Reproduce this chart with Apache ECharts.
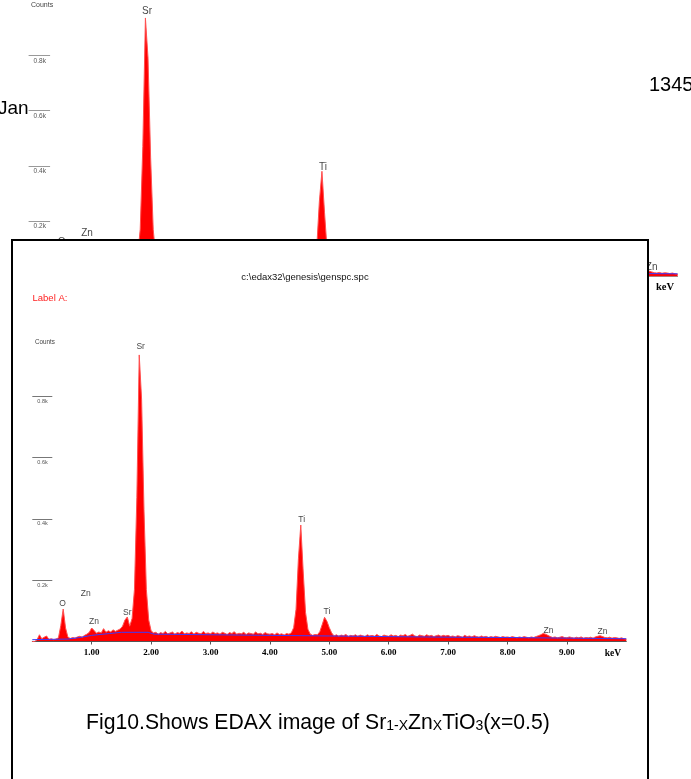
<!DOCTYPE html>
<html>
<head>
<meta charset="utf-8">
<script src="https://cdn.jsdelivr.net/npm/echarts@6/dist/echarts.min.js"></script>
<style>
  html, body { margin: 0; padding: 0; background: #fff; }
  #chart { width: 691px; height: 779px; }
</style>
</head>
<body>
<div id="chart"></div>
<script>
  // spectrum counts, one value per 0.04 keV channel (0.00 .. 10.00 keV)
  const KEV_STEP = 0.04;
  const counts = [
    0, 0, 6, 22, 9, 14, 18, 7, 9, 6, 8, 12, 52, 106, 44, 14, 10, 13, 11, 15, 17, 14, 20, 24, 30,
    44, 36, 27, 31, 28, 42, 30, 35, 31, 38, 33, 37, 41, 50, 70, 80, 50, 75, 170, 470, 935, 790, 430, 170, 70,
    35, 28, 30, 24, 29, 26, 33, 25, 28, 31, 24, 29, 27, 34, 25, 28, 26, 32, 24, 30, 27, 25, 33, 26, 28,
    25, 31, 26, 28, 24, 30, 27, 23, 29, 26, 32, 24, 27, 25, 30, 23, 28, 26, 24, 31, 25, 27, 23, 29, 25,
    24, 26, 22, 28, 23, 25, 21, 26, 24, 28, 45, 105, 270, 380, 230, 95, 40, 24, 20, 23, 22, 32, 55, 79, 66,
    45, 28, 18, 22, 17, 21, 19, 23, 16, 20, 18, 22, 17, 21, 19, 16, 22, 18, 20, 17, 23, 18, 16, 21, 19,
    17, 22, 18, 20, 16, 21, 19, 23, 17, 20, 24, 18, 16, 21, 19, 17, 22, 18, 20, 16, 19, 21, 17, 20, 18,
    20, 16, 18, 15, 19, 17, 14, 20, 16, 18, 15, 19, 16, 14, 18, 15, 17, 13, 16, 14, 17, 15, 13, 16, 14,
    15, 13, 16, 14, 12, 15, 13, 16, 14, 12, 15, 13, 16, 19, 22, 26, 24, 20, 16, 13, 15, 12, 14, 16, 13,
    12, 15, 13, 11, 14, 12, 15, 11, 13, 12, 14, 11, 15, 17, 19, 16, 13, 12, 14, 11, 13, 12, 10, 12, 9, 8
  ];

  // fitted background (blue line)
  const bgKeV = [0, 0.6, 0.8, 1.0, 1.3, 1.5, 1.95, 2.05, 3.0, 4.0, 5.0, 6.0, 7.0, 8.0, 9.0, 10.0];
  const bgCounts = [6, 8, 13, 20, 26, 30, 30, 24, 22, 20, 18, 16, 14, 13, 11, 9];

  // element labels
  const peakNames = ['O', 'Zn', 'Zn', 'Sr', 'Sr', 'Ti', 'Ti', 'Zn', 'Zn'];
  const peakKeV = [0.51, 0.90, 1.04, 1.60, 1.825, 4.535, 4.96, 8.69, 9.60];
  const peakLabelY = [125, 157, 64, 94, 961, 396, 96, 37, 31];

  const yTicks = [200, 400, 600, 800];
  const xTicks = [1, 2, 3, 4, 5, 6, 7, 8, 9];

  const SANS = 'Liberation Sans, Arial, sans-serif';
  const SERIF = 'Liberation Serif, Times New Roman, serif';

  const spectrum = counts.map((c, i) => [+(i * KEV_STEP).toFixed(2), c]);
  const background = bgKeV.map((k, i) => [k, bgCounts[i]]);
  const peakLabels = peakNames.map((n, i) => ({ name: n, value: [peakKeV[i], peakLabelY[i]] }));

  const chart = echarts.init(document.getElementById('chart'));

  function yAxisFor(grid, tickLen, fontSize, color, z) {
    return {
      type: 'value', gridIndex: grid, min: 0, max: 1000, interval: 200, z: z,
      axisLine: { show: false },
      splitLine: { show: false },
      axisTick: { show: true, inside: true, length: tickLen, customValues: yTicks, lineStyle: { color: color, width: 1 } },
      axisLabel: {
        show: true, inside: true, customValues: yTicks, margin: 5,
        verticalAlign: 'top', padding: [2, 0, 0, 0],
        fontSize: fontSize, fontFamily: SANS, color: '#555',
        formatter: v => (v / 1000).toFixed(1) + 'k'
      }
    };
  }

  function seriesFor(idx, z, labelSize) {
    return [
      {
        type: 'line', xAxisIndex: idx, yAxisIndex: idx, z: z,
        data: spectrum, symbol: 'none', sampling: 'none',
        lineStyle: { color: '#ff5050', width: 1 },
        areaStyle: { color: '#ff0000', opacity: 1 },
        silent: true
      },
      {
        type: 'line', xAxisIndex: idx, yAxisIndex: idx, z: z + 1,
        data: background, symbol: 'none',
        lineStyle: { color: '#3a3aff', width: 1 },
        silent: true
      },
      {
        type: 'scatter', xAxisIndex: idx, yAxisIndex: idx, z: z + 2,
        data: peakLabels, symbolSize: 1, itemStyle: { color: 'transparent' },
        label: { show: true, position: 'inside', formatter: '{b}', color: '#111', fontSize: labelSize, fontFamily: SANS },
        silent: true
      }
    ];
  }

  const option = {
    animation: false,
    backgroundColor: '#fff',
    grid: [
      { left: 28.6, width: 649, top: -1.2, height: 277.5 },
      { left: 32.3, width: 594, top: 335, height: 306.5 }
    ],
    xAxis: [
      {
        type: 'value', gridIndex: 0, min: 0, max: 10, interval: 1, z: 0,
        axisLine: { show: true, lineStyle: { color: '#999', width: 1 } },
        axisTick: { show: false }, axisLabel: { show: false }, splitLine: { show: false }
      },
      {
        type: 'value', gridIndex: 1, min: 0, max: 10, interval: 1, z: 10,
        axisLine: { show: true, lineStyle: { color: '#555', width: 1 } },
        axisTick: { show: true, length: 3, customValues: xTicks, lineStyle: { color: '#555' } },
        axisLabel: {
          show: true, customValues: xTicks, margin: 7,
          fontFamily: SERIF, fontWeight: 'bold', fontSize: 9, color: '#000',
          formatter: v => v.toFixed(2)
        },
        splitLine: { show: false }
      }
    ],
    yAxis: [
      yAxisFor(0, 21.5, 6.5, '#999', 0),
      yAxisFor(1, 20, 5.5, '#777', 10)
    ],
    series: [].concat(seriesFor(0, 1, 10), seriesFor(1, 10, 8.5)),
    graphic: [
      // page text around the figure
      { type: 'text', x: -2, y: 109, z: 0, style: { text: 'Jan', font: '19px ' + SANS, fill: '#000', textVerticalAlign: 'middle', verticalAlign: 'middle' } },
      { type: 'text', x: 649, y: 85, z: 0, style: { text: '1345', font: '20px ' + SANS, fill: '#000', textVerticalAlign: 'middle', verticalAlign: 'middle' } },
      // top (background) spectrum captions
      { type: 'text', x: 31, y: 5, z: 0, style: { text: 'Counts', font: '7px ' + SANS, fill: '#444', textVerticalAlign: 'middle', verticalAlign: 'middle' } },
      { type: 'text', x: 665, y: 287, z: 0, style: { text: 'keV', font: 'bold 10.5px ' + SERIF, fill: '#000', textAlign: 'center', align: 'center', textVerticalAlign: 'middle', verticalAlign: 'middle' } },
      // front box
      { type: 'rect', z: 5, shape: { x: 12, y: 240, width: 636, height: 600 }, style: { fill: '#fff', stroke: '#000', lineWidth: 2 } },
      { type: 'text', x: 305, y: 277, z: 20, style: { text: 'c:\\edax32\\genesis\\genspc.spc', font: '9.5px ' + SANS, fill: '#111', textAlign: 'center', align: 'center', textVerticalAlign: 'middle', verticalAlign: 'middle' } },
      { type: 'text', x: 32.5, y: 298, z: 20, style: { text: 'Label A:', font: '9.5px ' + SANS, fill: '#ff2020', textVerticalAlign: 'middle', verticalAlign: 'middle' } },
      { type: 'text', x: 35, y: 342, z: 20, style: { text: 'Counts', font: '6.3px ' + SANS, fill: '#444', textVerticalAlign: 'middle', verticalAlign: 'middle' } },
      { type: 'text', x: 613, y: 654, z: 20, style: { text: 'keV', font: 'bold 9.5px ' + SERIF, fill: '#000', textAlign: 'center', align: 'center', textVerticalAlign: 'middle', verticalAlign: 'middle' } },
      {
        type: 'text', x: 86, y: 721, z: 20,
        style: {
          text: '{n|Fig10.Shows EDAX image of Sr}{s|1-X}{n|Zn}{s|X}{n|TiO}{s|3}{n|(x=0.5)}',
          fill: '#000', textVerticalAlign: 'middle', verticalAlign: 'middle',
          rich: {
            n: { fontSize: 21.2, fontFamily: SANS, lineHeight: 25, verticalAlign: 'bottom' },
            s: { fontSize: 14, fontFamily: SANS, lineHeight: 13, verticalAlign: 'bottom' }
          }
        }
      }
    ]
  };

  chart.setOption(option);
</script>
</body>
</html>
